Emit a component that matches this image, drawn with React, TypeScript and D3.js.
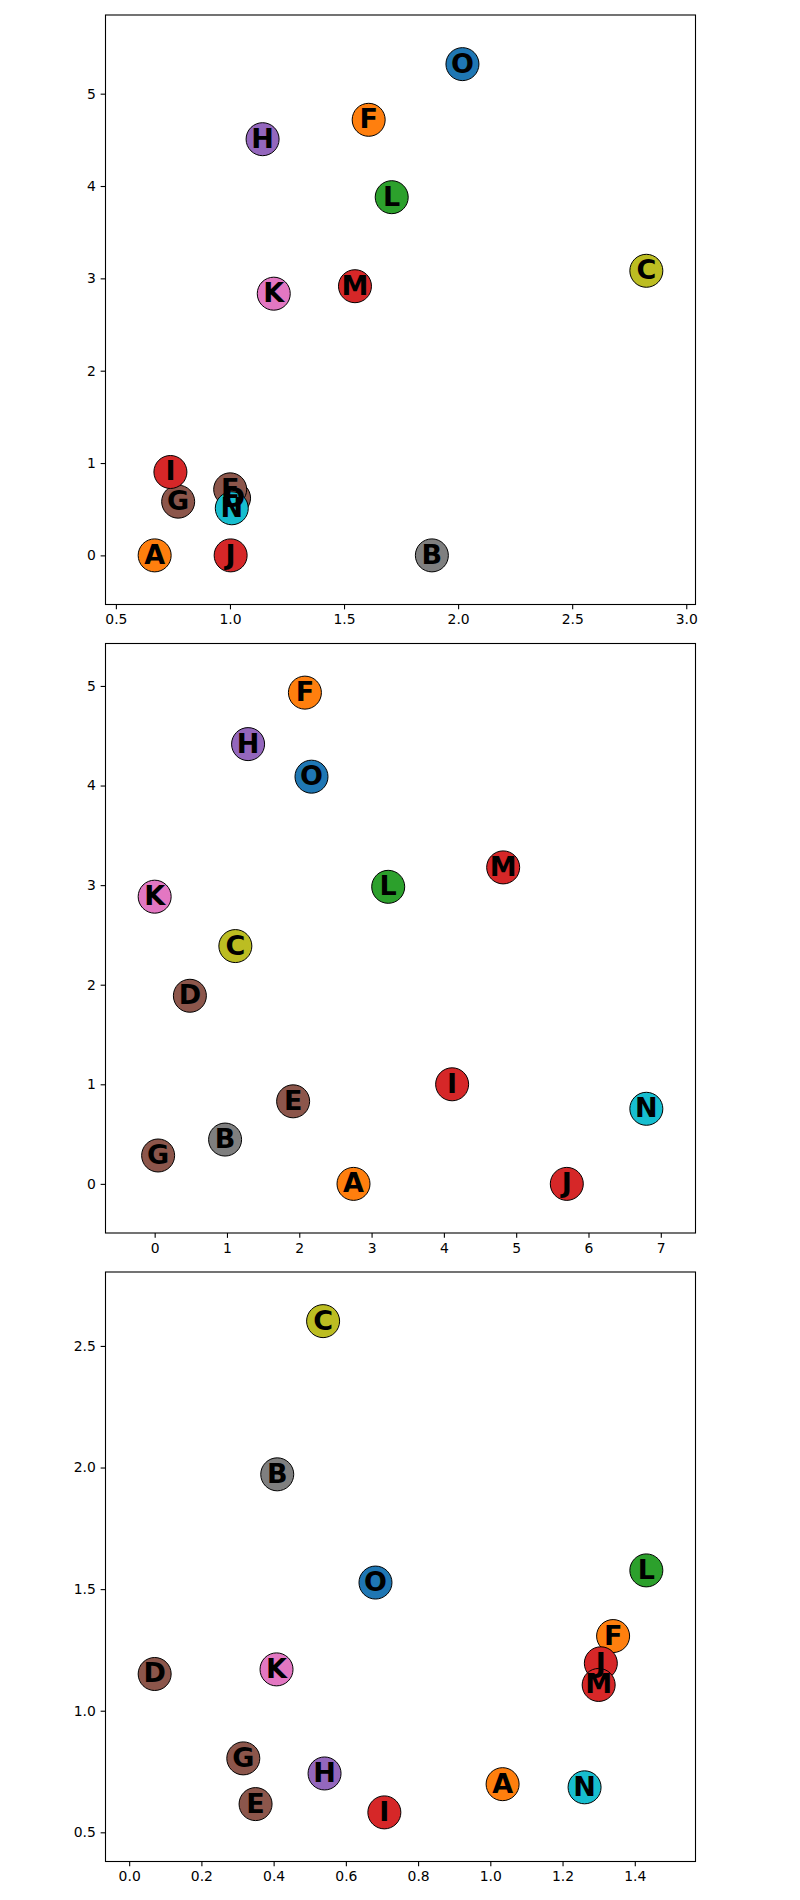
import React, { useEffect, useRef } from 'react';
import * as d3 from 'd3';

// point labels and their colours (same mapping in every panel)
const letters = ['A', 'B', 'C', 'D', 'E', 'F', 'G', 'H', 'I', 'J', 'K', 'L', 'M', 'N', 'O'];
const pointColors = [
  '#ff7f0e', '#7f7f7f', '#bcbd22', '#8c564b', '#8c564b', '#ff7f0e', '#8c564b', '#9467bd',
  '#d62728', '#d62728', '#e377c2', '#2ca02c', '#d62728', '#17becf', '#1f77b4',
];

// panel 1
const x1 = [0.67, 1.885, 2.825, 1.018, 1.001, 1.608, 0.773, 1.143, 0.739, 1.003, 1.192, 1.709, 1.548, 1.008, 2.019];
const y1 = [0, 0, 3.082, 0.62, 0.715, 4.717, 0.582, 4.507, 0.903, 0, 2.834, 3.879, 2.915, 0.51, 5.32];
const xTicks1 = [0.5, 1.0, 1.5, 2.0, 2.5, 3.0];
const yTicks1 = [0, 1, 2, 3, 4, 5];

// panel 2
const x2 = [2.75, 0.974, 1.116, 0.487, 1.915, 2.078, 0.048, 1.292, 4.114, 5.7, 0, 3.23, 4.82, 6.8, 2.169];
const y2 = [0, 0.445, 2.388, 1.889, 0.829, 4.933, 0.285, 4.416, 1.0, 0, 2.884, 2.983, 3.178, 0.754, 4.089];
const xTicks2 = [0, 1, 2, 3, 4, 5, 6, 7];
const yTicks2 = [0, 1, 2, 3, 4, 5];

// panel 3
const x3 = [1.034, 0.41, 0.537, 0.0706, 0.35, 1.34, 0.316, 0.541, 0.7066, 1.306, 0.408, 1.432, 1.3, 1.261, 0.682];
const y3 = [0.698, 1.972, 2.602, 1.151, 0.616, 1.307, 0.804, 0.742, 0.582, 1.195, 1.17, 1.577, 1.106, 0.685, 1.527];
const xTicks3 = [0.0, 0.2, 0.4, 0.6, 0.8, 1.0, 1.2, 1.4];
const yTicks3 = [0.5, 1.0, 1.5, 2.0, 2.5];

const panels = [
  { xs: x1, ys: y1, xTicks: xTicks1, yTicks: yTicks1, xFmt: '.1f', yFmt: 'd' },
  { xs: x2, ys: y2, xTicks: xTicks2, yTicks: yTicks2, xFmt: 'd', yFmt: 'd' },
  { xs: x3, ys: y3, xTicks: xTicks3, yTicks: yTicks3, xFmt: '.1f', yFmt: '.1f' },
];

const width = 800;
const height = 1900;

// pad the data extent by 10% on each side
const padded = (vals: number[]) => {
  const [lo, hi] = d3.extent(vals) as [number, number];
  const m = (hi - lo) * 0.1;
  return [lo - m, hi + m];
};

const App = () => {
  const svgRef = useRef<SVGSVGElement>(null);

  useEffect(() => {
    const svg = d3.select(svgRef.current);
    svg.selectAll('*').remove();

    const left = 105.5;
    const plotW = 590;
    const plotH = 589.5;
    const tops = [15, 643.5, 1272];
    const tick = 4.86;

    panels.forEach((p, i) => {
      const g = svg.append('g').attr('transform', `translate(${left},${tops[i]})`);

      const x = d3.scaleLinear().domain(padded(p.xs)).range([0, plotW]);
      const y = d3.scaleLinear().domain(padded(p.ys)).range([plotH, 0]);

      // axes
      const xAxis = d3.axisBottom(x)
        .tickValues(p.xTicks)
        .tickFormat(d3.format(p.xFmt) as any)
        .tickSize(tick)
        .tickSizeOuter(0)
        .tickPadding(tick);
      const yAxis = d3.axisLeft(y)
        .tickValues(p.yTicks)
        .tickFormat(d3.format(p.yFmt) as any)
        .tickSize(tick)
        .tickSizeOuter(0)
        .tickPadding(tick);

      const gx = g.append('g').attr('transform', `translate(0,${plotH})`).call(xAxis);
      const gy = g.append('g').call(yAxis);
      [gx, gy].forEach(a => {
        a.select('.domain').remove();
        a.selectAll('line').attr('stroke', '#000').attr('stroke-width', 1.1);
        a.selectAll('text')
          .attr('fill', '#000')
          .style('font-family', '"DejaVu Sans", sans-serif')
          .style('font-size', '13.9px');
      });

      // frame
      g.append('rect')
        .attr('width', plotW)
        .attr('height', plotH)
        .attr('fill', 'none')
        .attr('stroke', '#000')
        .attr('stroke-width', 1.1);

      const idx = d3.range(letters.length);

      // markers first, then all the letters on top
      g.append('g')
        .selectAll('circle')
        .data(idx)
        .join('circle')
        .attr('cx', d => x(p.xs[d]))
        .attr('cy', d => y(p.ys[d]))
        .attr('r', 16.5)
        .attr('fill', d => pointColors[d])
        .attr('stroke', '#000')
        .attr('stroke-width', 1);

      g.append('g')
        .selectAll('text')
        .data(idx)
        .join('text')
        .attr('x', d => x(p.xs[d]))
        .attr('y', d => y(p.ys[d]) + 8.5)
        .attr('text-anchor', 'middle')
        .style('font-family', '"DejaVu Sans", sans-serif')
        .style('font-weight', 'bold')
        .style('font-size', '27px')
        .attr('fill', '#000')
        .text(d => letters[d]);
    });
  }, []);

  return (
    <svg
      ref={svgRef}
      width={width}
      height={height}
      style={{ position: 'absolute', left: 0, top: 0, background: '#fff' }}
    />
  );
};

export default App;
